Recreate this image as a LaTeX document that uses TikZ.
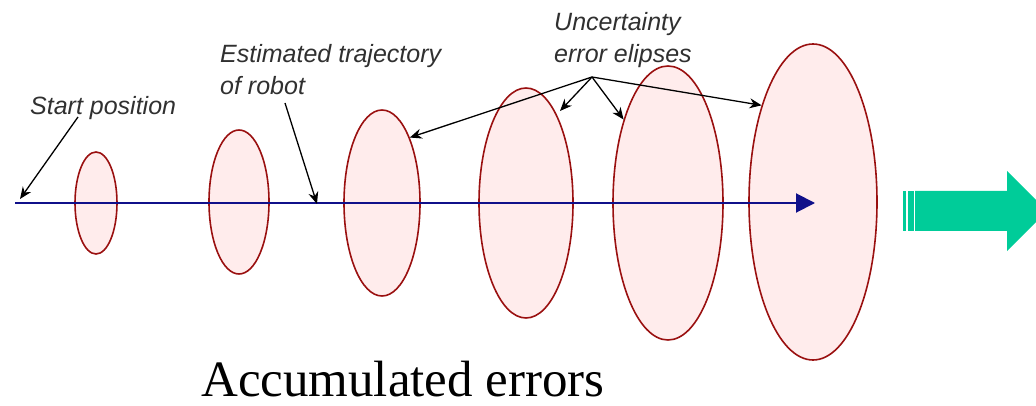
\documentclass[tikz,border=0pt]{standalone}
\usepackage{fontspec}
\setmainfont{Liberation Serif}
\setsansfont{Liberation Sans}
\usetikzlibrary{arrows.meta,shapes.geometric}
\definecolor{ellfill}{HTML}{FFECEC}
\definecolor{ellline}{HTML}{9A1010}
\definecolor{traj}{HTML}{10108A}
\definecolor{bigarrow}{HTML}{00CC99}
\definecolor{labelgray}{HTML}{303030}
\tikzset{
  errell/.style={ellipse, draw=ellline, fill=ellfill, line width=1.6pt, inner sep=0pt},
  lbl/.style={anchor=base west, inner sep=0pt, text=labelgray, font=\sffamily\itshape\fontsize{25}{32}\selectfont, align=left},
  pointer/.style={draw=black, line width=1.3pt, -{Stealth[length=12pt,width=10pt]}},
  trajline/.style={draw=traj, line width=2pt, -{Triangle[length=19pt,width=19pt]}}
}
\begin{document}
\begin{tikzpicture}[x=1pt,y=-1pt]
\useasboundingbox (0,0) rectangle (1036,406);
% ellipses
\node[errell, minimum width=42pt, minimum height=102pt] (e1) at (96,203) {};
\node[errell, minimum width=60pt, minimum height=144pt] (e2) at (239,202) {};
\node[errell, minimum width=76pt, minimum height=186pt] (e3) at (382,203) {};
\node[errell, minimum width=94pt, minimum height=230pt] (e4) at (526,203) {};
\node[errell, minimum width=110pt, minimum height=274pt] (e5) at (668,203) {};
\node[errell, minimum width=128pt, minimum height=316pt] (e6) at (813,202) {};
% trajectory
\coordinate (ts) at (15,203);
\coordinate (te) at (815,203);
\draw[trajline] (ts) -- (te);
% labels (base = last line)
\node[lbl] (lstart) at (30,115) {Start position};
\node[lbl] (lest) at (220,95) {Estimated trajectory\\of robot};
\node[lbl] (lunc) at (554,63) {Uncertainty\\error elipses};
% pointers
\coordinate (ps) at (78,117);
\coordinate (pst) at (20,199);
\draw[pointer] (ps) -- (pst);
\coordinate (pe) at (285,103);
\coordinate (pet) at (317,204);
\draw[pointer] (pe) -- (pet);
\coordinate (pu) at (592,77);
\draw[pointer] (pu) -- (e3.67);
\draw[pointer] (pu) -- (560,111);
\draw[pointer] (pu) -- (e5.118);
\draw[pointer] (pu) -- (e6.118);
% big arrow
\fill[bigarrow] (903,191) rectangle (905.5,231);
\fill[bigarrow] (907.5,191) rectangle (913.5,231);
\fill[bigarrow] (915,191) -- (1007,191) -- (1007,171) -- (1047,211) -- (1007,251) -- (1007,231) -- (915,231) -- cycle;
% caption
\node[anchor=base west, inner sep=0pt, font=\fontsize{51}{58}\selectfont] (cap) at (201,396) {Accumulated errors};
\end{tikzpicture}
\end{document}
